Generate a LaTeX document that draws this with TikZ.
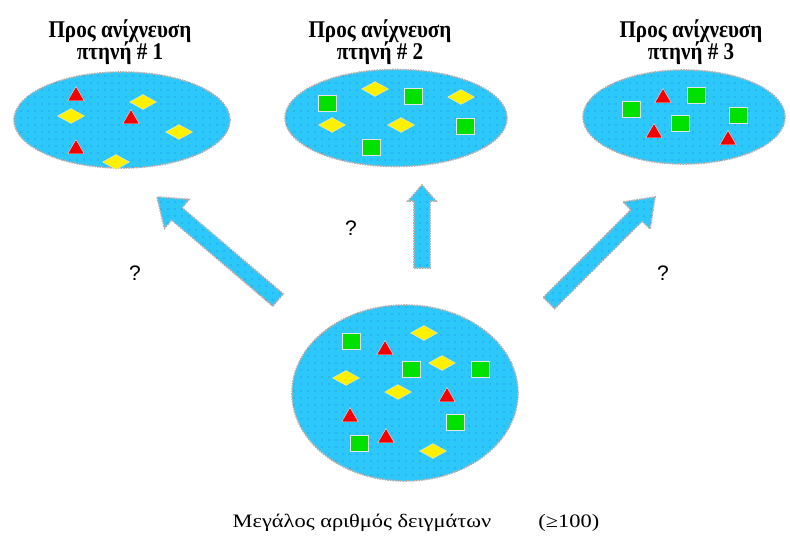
\documentclass[tikz,border=0pt]{standalone}
\usepackage{fontspec}
\usepackage{graphicx}
\setmainfont{Liberation Serif}
\newfontfamily\qfont{Liberation Sans}
\usetikzlibrary{shapes.geometric,calc,patterns}

% sparse dot texture for the pools
\pgfdeclarepatternformonly{sparsedots}{\pgfqpoint{-1pt}{-1pt}}{\pgfqpoint{1pt}{1pt}}{\pgfqpoint{7pt}{7pt}}{%
  \pgfpathcircle{\pgfqpoint{0pt}{0pt}}{0.6pt}\pgfusepath{fill}}

\definecolor{poolblue}{RGB}{45,200,250}
\definecolor{dotblue}{RGB}{30,120,230}
\definecolor{halo}{RGB}{175,175,175}
\definecolor{ryellow}{RGB}{255,240,0}
\definecolor{rgreen}{RGB}{0,225,0}
\definecolor{rred}{RGB}{245,0,0}

\tikzset{
  pool/.style={ellipse, inner sep=0pt, fill=poolblue, draw=halo, line width=1.6pt, densely dotted,
    postaction={pattern=sparsedots, pattern color=dotblue}},
  tri/.style={regular polygon, regular polygon sides=3, minimum size=19pt, inner sep=0pt, fill=rred, draw=white!80!gray, line width=0.4pt},
  dia/.style={diamond, minimum width=27pt, minimum height=15pt, inner sep=0pt, fill=ryellow, draw=white!80!gray, line width=0.4pt},
  sq/.style={rectangle, minimum width=18pt, minimum height=16pt, inner sep=0pt, fill=rgreen, draw=white!80!gray, line width=0.4pt},
  title/.style={align=center, font=\fontsize{24}{22}\selectfont\bfseries, inner sep=0pt},
  qmark/.style={font=\qfont\fontsize{21}{21}\selectfont, inner sep=0pt},
  fatarrowstyle/.style={fill=poolblue, draw=halo, line width=1.6pt, densely dotted,
    postaction={pattern=sparsedots, pattern color=dotblue}},
}

% narrow bold heading set in two lines
\newcommand\headtext[1]{\scalebox{0.88}[1]{\begin{tabular}{@{}c@{}}Προς ανίχνευση\\[-2pt]πτηνή \# #1\end{tabular}}}

% block arrow from #1 to #2: half shaft width #3, half head width #4, head length #5
\newcommand\fatarrow[5]{%
  \coordinate (hb) at ($(#2)!#5!(#1)$);
  \path[fatarrowstyle] ($(#1)!#3!90:(#2)$) -- ($(hb)!#3!90:(#2)$) -- ($(hb)!#4!90:(#2)$) -- (#2)
    -- ($(hb)!#4!-90:(#2)$) -- ($(hb)!#3!-90:(#2)$) -- ($(#1)!#3!-90:(#2)$) -- cycle;
}

\begin{document}
\begin{tikzpicture}[x=1pt, y=-1pt]
\useasboundingbox[fill=white] (0,0) rectangle (790,538);

% titles
\node[title] (t1) at (120,43) {\headtext{1}};
\node[title] (t2) at (380,43) {\headtext{2}};
\node[title] (t3) at (691,43) {\headtext{3}};

% pools
\node[pool, minimum width=216pt, minimum height=96pt] (p1) at (122,120) {};
\node[pool, minimum width=222pt, minimum height=97pt] (p2) at (396,118) {};
\node[pool, minimum width=202pt, minimum height=94pt] (p3) at (684,117) {};
\node[pool, minimum width=226pt, minimum height=176pt] (p0) at (405,393) {};

% contents of pool 1
\node[tri] (a1) at (76,96) {};
\node[tri] (a2) at (131,119) {};
\node[tri] (a3) at (76,149) {};
\node[dia] (a4) at (143,102) {};
\node[dia] (a5) at (71,116) {};
\node[dia] (a6) at (179,132) {};
\node[dia] (a7) at (116,162) {};

% contents of pool 2
\node[dia] (b1) at (375,89) {};
\node[sq]  (b2) at (413,96) {};
\node[dia] (b3) at (461,97) {};
\node[sq]  (b4) at (327,103) {};
\node[dia] (b5) at (332,125) {};
\node[dia] (b6) at (401,125) {};
\node[sq]  (b7) at (465,126) {};
\node[sq]  (b8) at (371,147) {};

% contents of pool 3
\node[tri] (c1) at (663,98) {};
\node[sq]  (c2) at (696,95) {};
\node[sq]  (c3) at (631,109) {};
\node[sq]  (c4) at (680,123) {};
\node[sq]  (c5) at (738,115) {};
\node[tri] (c6) at (654,133) {};
\node[tri] (c7) at (728,140) {};

% contents of the large pool
\node[sq]  (d1)  at (351,341) {};
\node[tri] (d2)  at (385,350) {};
\node[dia] (d3)  at (424,333) {};
\node[sq]  (d4)  at (411,369) {};
\node[dia] (d5)  at (442,363) {};
\node[sq]  (d6)  at (480,369) {};
\node[dia] (d7)  at (346,378) {};
\node[dia] (d8)  at (398,392) {};
\node[tri] (d9)  at (447,397) {};
\node[tri] (d10) at (350,417) {};
\node[sq]  (d11) at (455,422) {};
\node[sq]  (d12) at (359,443) {};
\node[tri] (d13) at (386,438) {};
\node[dia] (d14) at (433,451) {};

% arrows from the large pool towards the small ones
\coordinate (s1) at (278,300);
\coordinate (e1) at (157,197);
\coordinate (s2) at (422,268);
\coordinate (e2) at (422,185);
\coordinate (s3) at (549,303);
\coordinate (e3) at (655,197);
\fatarrow{s1}{e1}{8pt}{19pt}{26pt}
\fatarrow{s2}{e2}{8pt}{14pt}{16pt}
\fatarrow{s3}{e3}{8pt}{19pt}{26pt}

% question marks
\node[qmark] (q1) at (135,273) {?};
\node[qmark] (q2) at (351,228) {?};
\node[qmark] (q3) at (663,273) {?};

% caption
\node[font=\fontsize{19}{19}\selectfont, inner sep=0pt] (cap) at (416,523)
  {\scalebox{1.18}[1]{Μεγάλος αριθμός δειγμάτων\hspace{40pt}(≥100)}};
\end{tikzpicture}
\end{document}
